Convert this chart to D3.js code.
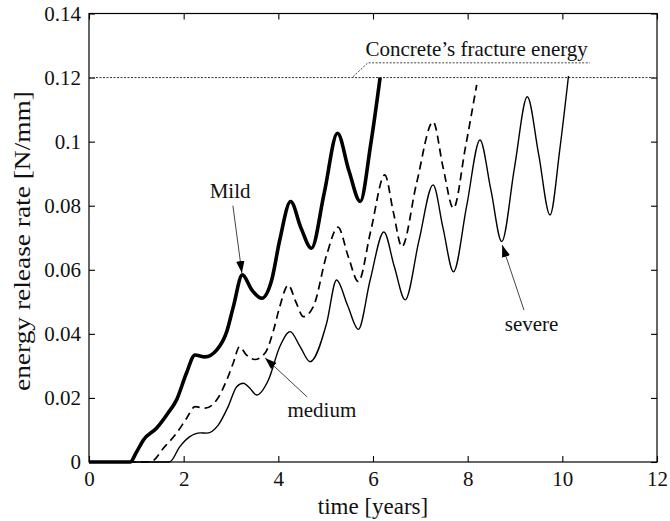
<!DOCTYPE html>
<html><head><meta charset="utf-8">
<script src="https://cdn.jsdelivr.net/npm/d3@7"></script>
<style>
html,body{margin:0;padding:0;background:#fff;}
svg text{font-family:"Times New Roman","Liberation Serif",Times,"DejaVu Serif",serif;fill:#111;}
</style></head>
<body>
<svg id="chart" width="670" height="521"></svg>
<script>
// ---- data ----
const xTicks = [0, 2, 4, 6, 8, 10, 12];
const yTicks = [0, 0.02, 0.04, 0.06, 0.08, 0.1, 0.12, 0.14];
const fractureEnergy = 0.12;

const mildX = [0, 0.87, 1.0, 1.15, 1.43, 1.67, 1.85, 2.06, 2.24, 2.45, 2.7, 2.91, 3.05, 3.24, 3.44, 3.65, 3.86, 4.03, 4.26, 4.48, 4.7, 4.97, 5.25, 5.49, 5.73, 5.95, 6.15];
const mildY = [0, 0, 0.003, 0.0069, 0.0106, 0.0153, 0.0194, 0.0278, 0.0334, 0.0328, 0.035, 0.0407, 0.0485, 0.0584, 0.0537, 0.0511, 0.0568, 0.0693, 0.0813, 0.073, 0.0667, 0.084, 0.1026, 0.091, 0.0813, 0.099, 0.12];

const mediumX = [0, 1.29, 1.6, 1.85, 2.06, 2.24, 2.45, 2.7, 2.91, 3.05, 3.18, 3.32, 3.5, 3.72, 3.9, 4.03, 4.21, 4.37, 4.53, 4.74, 5.02, 5.26, 5.48, 5.69, 5.95, 6.25, 6.43, 6.61, 6.92, 7.27, 7.48, 7.7, 7.95, 8.19];
const mediumY = [0, 0, 0.0048, 0.009, 0.0136, 0.0173, 0.0168, 0.0194, 0.0256, 0.031, 0.036, 0.0335, 0.032, 0.034, 0.0412, 0.0485, 0.0552, 0.050, 0.0454, 0.0485, 0.0646, 0.0733, 0.064, 0.0563, 0.072, 0.0896, 0.078, 0.0672, 0.087, 0.1062, 0.092, 0.0792, 0.098, 0.1177];

const severeX = [0, 1.7, 1.92, 2.13, 2.35, 2.49, 2.73, 2.94, 3.12, 3.26, 3.4, 3.54, 3.79, 4.03, 4.25, 4.46, 4.67, 5.02, 5.23, 5.46, 5.69, 5.94, 6.23, 6.45, 6.68, 6.97, 7.27, 7.48, 7.7, 7.98, 8.26, 8.49, 8.72, 8.99, 9.26, 9.5, 9.74, 9.95, 10.13];
const severeY = [0, 0, 0.0048, 0.0079, 0.0091, 0.009, 0.0115, 0.0173, 0.0235, 0.0246, 0.023, 0.0209, 0.0256, 0.036, 0.0407, 0.036, 0.0313, 0.0433, 0.0568, 0.049, 0.0414, 0.0568, 0.0718, 0.061, 0.0506, 0.069, 0.0865, 0.073, 0.0594, 0.080, 0.1005, 0.085, 0.0688, 0.092, 0.114, 0.096, 0.0771, 0.098, 0.1205];

// annotations in data units
const labels = ["Mild", "medium", "severe"];
const labelPos = [[2.98, 0.0824], [4.92, 0.0141], [9.35, 0.0410]];
const arrowFrom = [[3.04, 0.0800], [4.61, 0.0203], [9.19, 0.0474]];
const arrowTo = [[3.23, 0.0590], [3.72, 0.0325], [8.73, 0.0677]];
const fractureLabel = "Concrete\u2019s fracture energy";
const fractureLabelPos = [8.19, 0.1267];
const leaderPts = [[5.58, 0.1203], [5.89, 0.1246], [10.58, 0.1246]];

// ---- layout ----
const W = 670, H = 521;
const m = {left: 89, right: 13, top: 13.5, bottom: 59};
const svg = d3.select("#chart");
const x = d3.scaleLinear().domain([0, 12]).range([m.left, W - m.right]);
const y = d3.scaleLinear().domain([0, 0.14]).range([H - m.bottom, m.top]);
const FS = 21;
const FONT = '"Times New Roman","Liberation Serif",Times,"DejaVu Serif",serif';

const defs = svg.append("defs");
defs.append("marker").attr("id", "arr").attr("viewBox", "0 0 10 10")
  .attr("refX", 10).attr("refY", 5).attr("markerWidth", 12).attr("markerHeight", 12)
  .attr("markerUnits", "userSpaceOnUse").attr("orient", "auto")
  .append("path").attr("d", "M0,1.5 L10,5 L0,8.5 Z").attr("fill", "#000");

// frame
svg.append("rect").attr("x", x(0)).attr("y", y(0.14))
  .attr("width", x(12) - x(0)).attr("height", y(0) - y(0.14))
  .attr("fill", "none").attr("stroke", "#000").attr("stroke-width", 1.2);

const yfmt = d => d === 0 ? "0" : String(+d.toFixed(2));
const styleAxis = g => {
  g.attr("font-family", FONT).attr("font-size", FS);
  g.select(".domain").remove();
  g.selectAll(".tick line").attr("stroke", "#000").attr("stroke-width", 1.1);
  g.selectAll("text").attr("fill", "#111");
};
svg.append("g").attr("transform", `translate(0,${y(0)})`)
  .call(d3.axisBottom(x).tickValues(xTicks).tickFormat(d3.format("d")).tickSize(-6).tickPadding(9)).call(styleAxis);
svg.append("g").attr("transform", `translate(0,${y(0.14)})`)
  .call(d3.axisTop(x).tickValues(xTicks).tickFormat("").tickSize(-6)).call(styleAxis);
svg.append("g").attr("transform", `translate(${x(0)},0)`)
  .call(d3.axisLeft(y).tickValues(yTicks).tickFormat(yfmt).tickSize(-6).tickPadding(8)).call(styleAxis);
svg.append("g").attr("transform", `translate(${x(12)},0)`)
  .call(d3.axisRight(y).tickValues(yTicks).tickFormat("").tickSize(-6)).call(styleAxis);

// fracture energy line
svg.append("line").attr("x1", x(0)).attr("x2", x(12)).attr("y1", y(fractureEnergy)).attr("y2", y(fractureEnergy))
  .attr("stroke", "#333").attr("stroke-width", 1).attr("stroke-dasharray", "2,1.5");

// curves
const line = d3.line().x(d => x(d[0])).y(d => y(d[1])).curve(d3.curveMonotoneX);
const zip = (a, b) => a.map((v, i) => [v, b[i]]);
svg.append("path").datum(zip(severeX, severeY)).attr("d", line)
  .attr("fill", "none").attr("stroke", "#000").attr("stroke-width", 1.4);
svg.append("path").datum(zip(mediumX, mediumY)).attr("d", line)
  .attr("fill", "none").attr("stroke", "#000").attr("stroke-width", 1.7).attr("stroke-dasharray", "8,5");
svg.append("path").datum(zip(mildX, mildY)).attr("d", line)
  .attr("fill", "none").attr("stroke", "#000").attr("stroke-width", 3.6).attr("stroke-linejoin", "round");

// leader for fracture label
svg.append("path").datum(leaderPts).attr("d", d3.line().x(d => x(d[0])).y(d => y(d[1])))
  .attr("fill", "none").attr("stroke", "#444").attr("stroke-width", 1).attr("stroke-dasharray", "2,1.5");
svg.append("text").attr("x", x(fractureLabelPos[0])).attr("y", y(fractureLabelPos[1]))
  .attr("text-anchor", "middle").attr("font-family", FONT).attr("font-size", FS).text(fractureLabel);

// annotations
labels.forEach((t, i) => {
  svg.append("line").attr("x1", x(arrowFrom[i][0])).attr("y1", y(arrowFrom[i][1]))
    .attr("x2", x(arrowTo[i][0])).attr("y2", y(arrowTo[i][1]))
    .attr("stroke", "#444").attr("stroke-width", 1).attr("marker-end", "url(#arr)");
  svg.append("text").attr("x", x(labelPos[i][0])).attr("y", y(labelPos[i][1]))
    .attr("text-anchor", "middle").attr("font-family", FONT).attr("font-size", FS).text(t);
});

// axis titles
svg.append("text").attr("x", (x(0) + x(12)) / 2).attr("y", 514).attr("text-anchor", "middle")
  .attr("font-family", FONT).attr("font-size", 23).text("time [years]");
svg.append("text").attr("transform", `translate(30,241) rotate(-90)`)
  .attr("text-anchor", "middle").attr("font-family", FONT).attr("font-size", 24)
  .attr("textLength", 300).attr("lengthAdjust", "spacingAndGlyphs")
  .text("energy release rate [N/mm]");
</script>
</body></html>
